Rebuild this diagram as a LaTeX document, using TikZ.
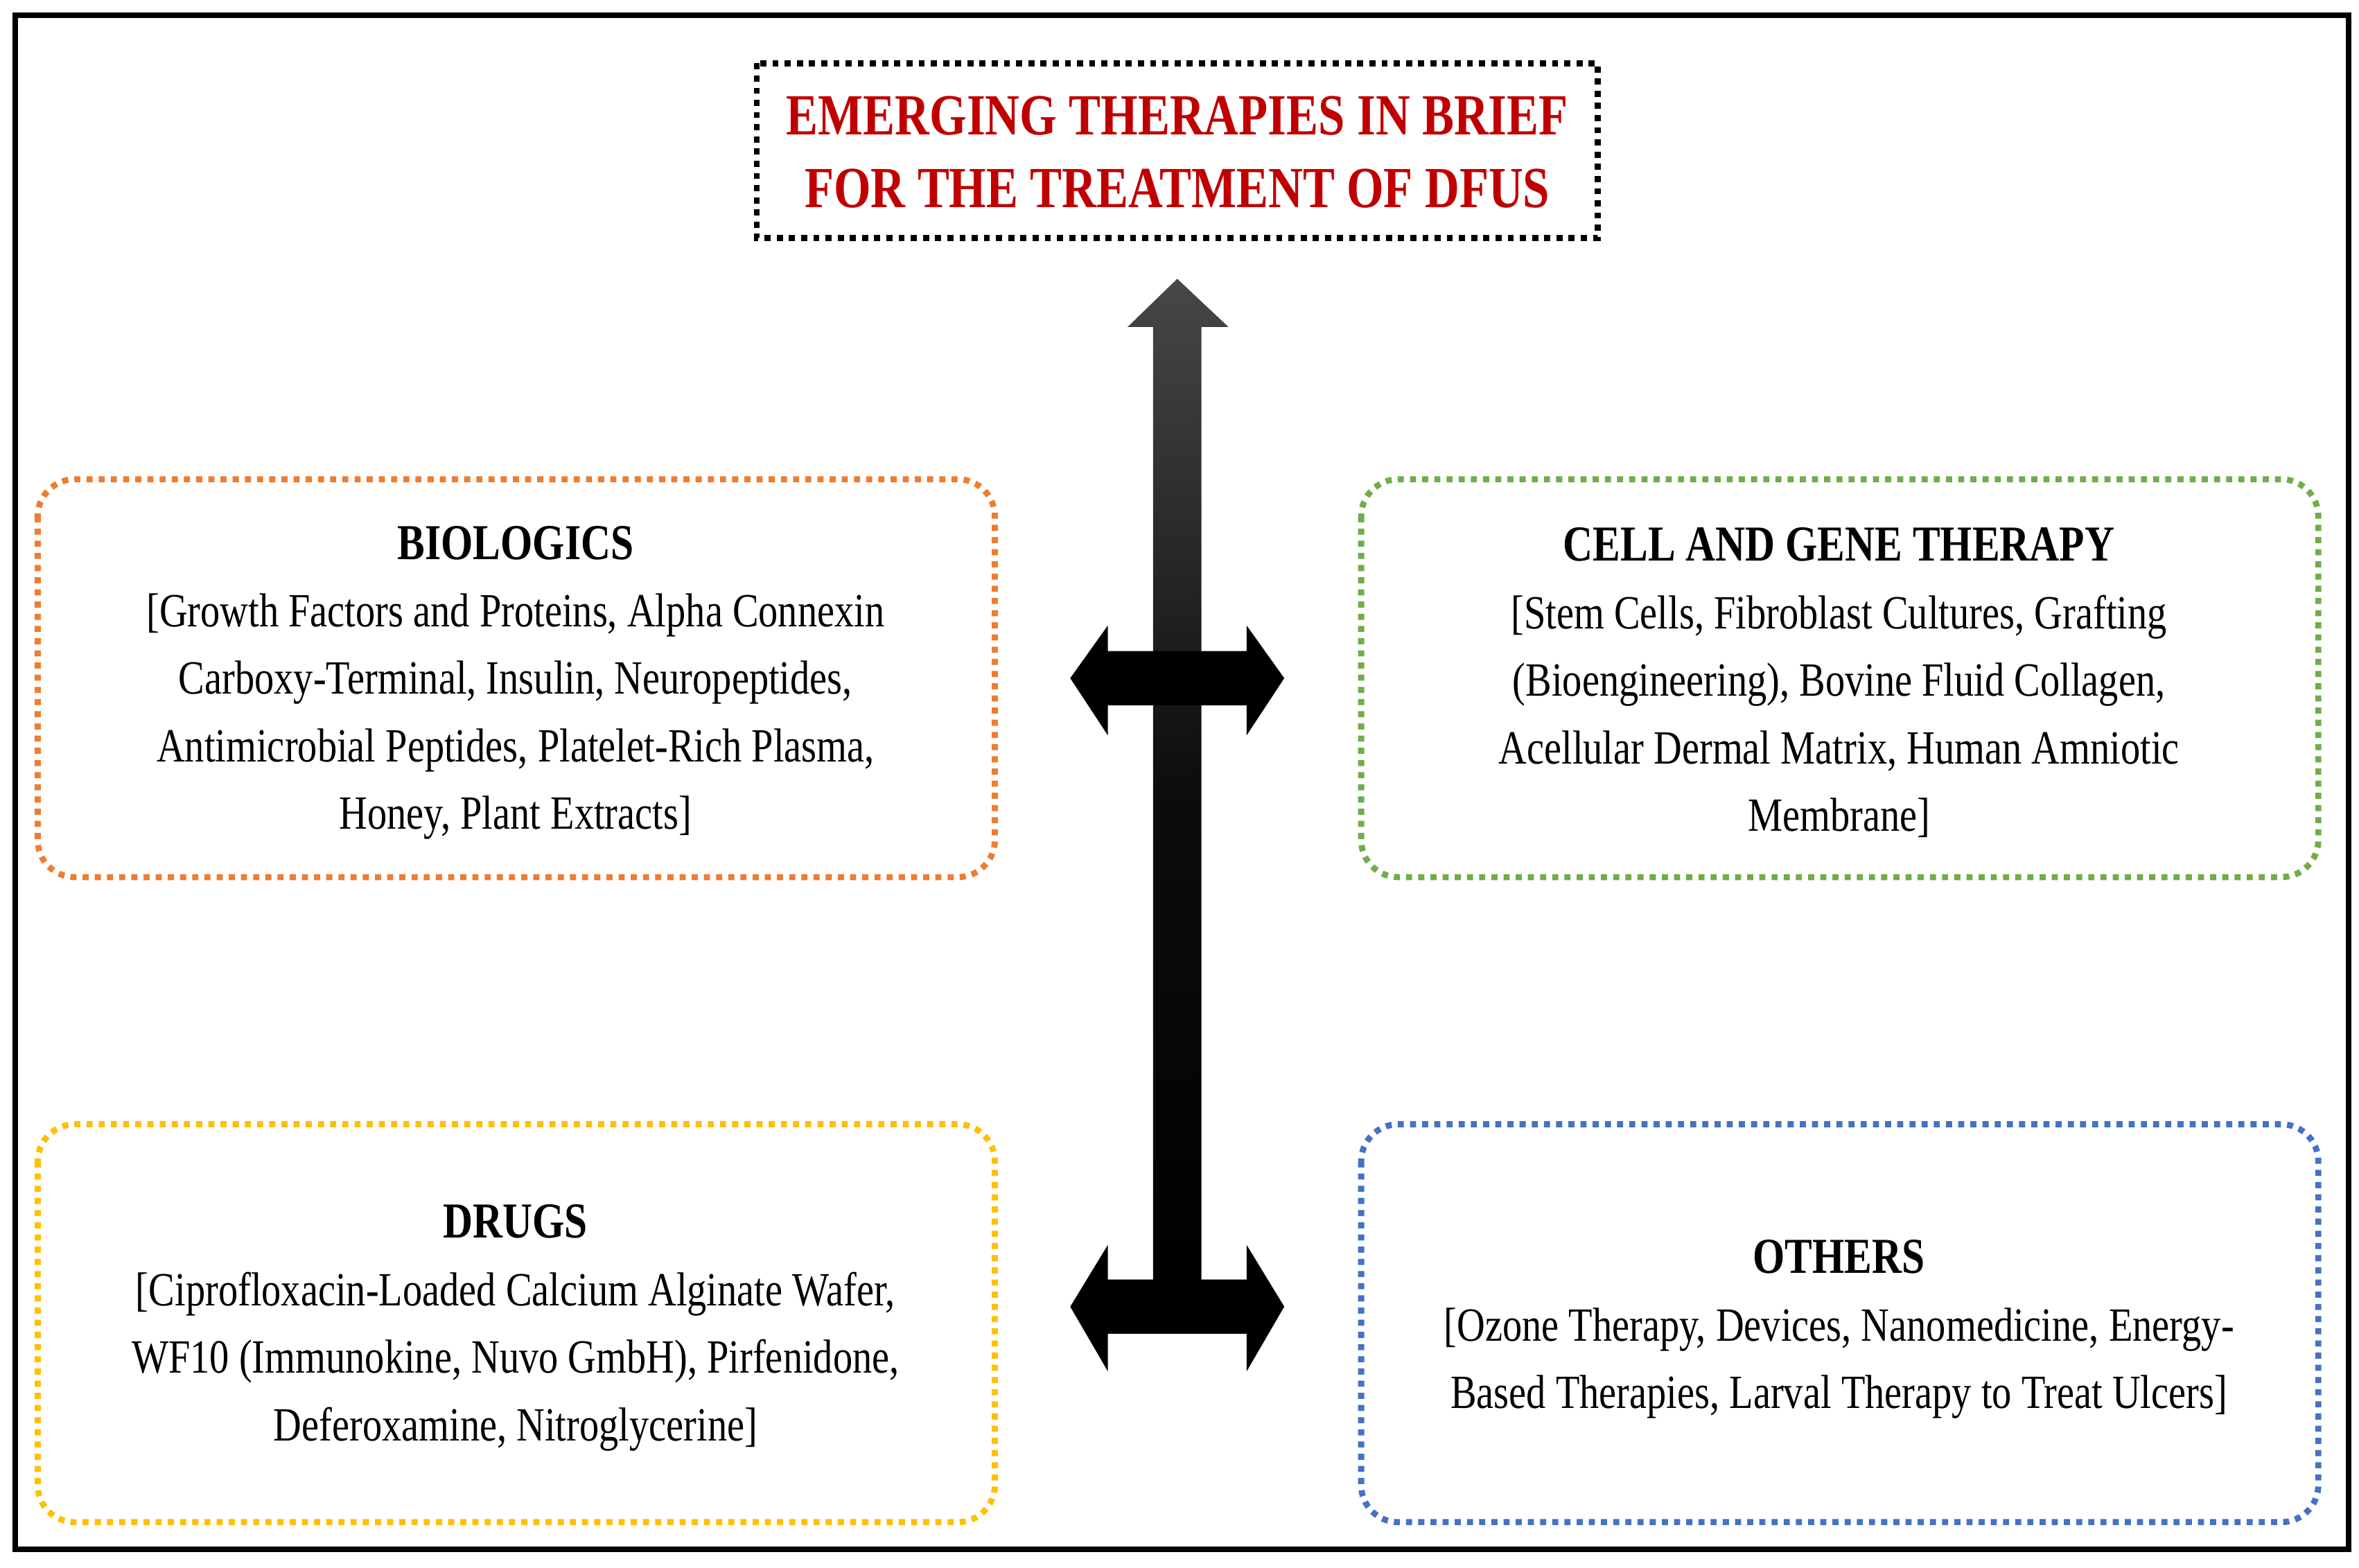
\documentclass[tikz,border=0pt]{standalone}
\usepackage{fontspec}
\setmainfont{Liberation Serif}[FakeStretch=0.82]
\begin{document}
\begin{tikzpicture}[x=0.02cm,y=-0.02cm,
  dotbox/.style={line width=2.3pt,dash pattern=on 2.3pt off 2.3pt,rounded corners=14pt},
  body/.style={align=center,font=\fontsize{18}{25.5}\selectfont,inner sep=0pt},
  arrowfill/.style={fill=black,draw=none}]
\definecolor{orb}{RGB}{237,125,49}
\definecolor{grb}{RGB}{112,173,71}
\definecolor{ylb}{RGB}{255,192,0}
\definecolor{blb}{RGB}{68,114,196}
\definecolor{ttl}{RGB}{192,0,0}
\useasboundingbox (0,0) rectangle (1565,1040);
\draw[line width=2pt] (10,10) rectangle (1558,1028);
% title
\draw[line width=2.3pt,dash pattern=on 2.3pt off 2.3pt] (502,42) rectangle (1060,158);
\node[body,font=\bfseries\fontsize{22}{27.5}\selectfont,text=ttl] (title) at (781,101) {EMERGING THERAPIES IN BRIEF\\FOR THE TREATMENT OF DFUS};
% boxes
\draw[dotbox,draw=orb] (25,318) rectangle (660,582);
\draw[dotbox,draw=grb] (903,318) rectangle (1538,582);
\draw[dotbox,draw=ylb] (25,746) rectangle (660,1010);
\draw[dotbox,draw=blb] (903,746) rectangle (1538,1010);
\node[body] (bio) at (342,453) {{\bfseries\fontsize{19}{25.5}\selectfont BIOLOGICS}\\{}%
[Growth Factors and Proteins, Alpha Connexin\\
Carboxy-Terminal, Insulin, Neuropeptides,\\
Antimicrobial Peptides, Platelet-Rich Plasma,\\
Honey, Plant Extracts]};
\node[body] (cell) at (1220,453) {{\bfseries\fontsize{19}{25.5}\selectfont CELL AND GENE THERAPY}\\{}%
[Stem Cells, Fibroblast Cultures, Grafting\\
(Bioengineering), Bovine Fluid Collagen,\\
Acellular Dermal Matrix, Human Amniotic\\
Membrane]};
\node[body] (drugs) at (342,881) {{\bfseries\fontsize{19}{25.5}\selectfont DRUGS}\\{}%
[Ciprofloxacin-Loaded Calcium Alginate Wafer,\\
WF10 (Immunokine, Nuvo GmbH), Pirfenidone,\\
Deferoxamine, Nitroglycerine]};
\node[body] (others) at (1220,882) {{\bfseries\fontsize{19}{25.5}\selectfont OTHERS}\\{}%
[Ozone Therapy, Devices, Nanomedicine, Energy-\\
Based Therapies, Larval Therapy to Treat Ulcers]};
% arrows
\shade[top color=black!72,bottom color=black,middle color=black!95] (781,185) -- (815,217) -- (797,217) -- (797,860) -- (765,860) -- (765,217) -- (748,217) -- cycle;
\fill[arrowfill] (710,450) -- (735,415) -- (735,432) -- (827,432) -- (827,415) -- (852,450) -- (827,488) -- (827,468) -- (735,468) -- (735,488) -- cycle;
\fill[arrowfill] (710,867) -- (735,826) -- (735,849) -- (827,849) -- (827,826) -- (852,867) -- (827,910) -- (827,885) -- (735,885) -- (735,910) -- cycle;
\end{tikzpicture}
\end{document}
